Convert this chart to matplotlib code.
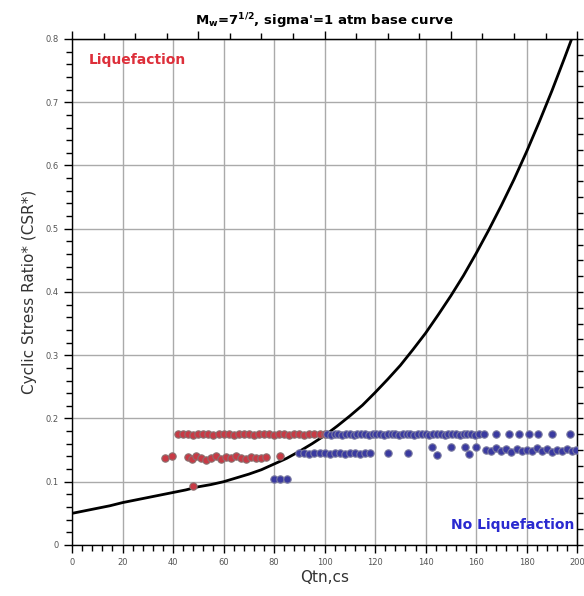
import numpy as np
import matplotlib
matplotlib.use('Agg')
import matplotlib.pyplot as plt
from matplotlib.ticker import MultipleLocator

# base curve
curve_q = [0, 5, 10, 15, 20, 25, 30, 35, 40, 45, 50, 55, 60, 65, 70, 75, 80, 85, 90, 95,
           100, 105, 110, 115, 120, 125, 130, 135, 140, 145, 150, 155, 160, 165, 170, 175,
           180, 185, 190, 195, 198]
curve_csr = [0.050, 0.054, 0.058, 0.062, 0.067, 0.071, 0.075, 0.079, 0.083, 0.087, 0.092,
             0.0955, 0.100, 0.106, 0.112, 0.119, 0.128, 0.137, 0.148, 0.160, 0.173, 0.188,
             0.204, 0.221, 0.241, 0.262, 0.284, 0.309, 0.335, 0.364, 0.394, 0.426, 0.461,
             0.498, 0.537, 0.578, 0.622, 0.669, 0.718, 0.770, 0.802]

# liquefaction points (red)
liq_q = [42, 44, 46, 48, 50, 52, 54, 56, 58, 60, 62, 64, 66, 68, 70, 72, 74, 76, 78, 80,
         82, 84, 86, 88, 90, 92, 94, 96, 98, 100,
         37, 39.5, 46, 47.5, 49, 51, 53, 55, 57, 59, 61, 63, 65, 67, 69, 71, 73, 75, 77, 82.5,
         48]
liq_csr = [0.175, 0.176, 0.175, 0.174, 0.175, 0.176, 0.175, 0.174, 0.175, 0.176, 0.175, 0.174,
           0.175, 0.176, 0.175, 0.174, 0.175, 0.176, 0.175, 0.174, 0.175, 0.176, 0.174, 0.175,
           0.176, 0.174, 0.175, 0.176, 0.175, 0.176,
           0.137, 0.140, 0.139, 0.136, 0.141, 0.137, 0.135, 0.138, 0.140, 0.136, 0.139, 0.137,
           0.140, 0.138, 0.136, 0.139, 0.138, 0.137, 0.139, 0.140,
           0.094]

# no liquefaction points (blue)
noliq_q = [101, 102.5, 104, 105.5, 107, 108.5, 110, 111.5, 113, 114.5, 116, 117.5, 119, 120.5,
           122, 123.5, 125, 126.5, 128, 129.5, 131, 132.5, 134, 135.5, 137, 138.5, 140, 141.5,
           143, 144.5, 146, 147.5, 149, 150.5, 152, 153.5, 155, 156.5, 158, 159.5, 161, 163,
           168, 173, 177, 181, 184.5, 190, 197,
           90, 92, 94, 96, 98, 100, 102, 104, 106, 108, 110, 112, 114, 116, 118, 125, 133,
           142.5, 144.5, 150, 155.5, 157, 160,
           164, 166, 168, 170, 172, 174, 176, 178, 180, 182, 184, 186, 188, 190, 192, 194,
           196, 198, 199.5,
           80, 82.5, 85]
noliq_csr = [0.175, 0.174, 0.176, 0.175, 0.174, 0.176, 0.175, 0.174, 0.175, 0.176, 0.175, 0.174,
             0.175, 0.176, 0.175, 0.174, 0.175, 0.176, 0.175, 0.174, 0.175, 0.176, 0.175, 0.174,
             0.175, 0.176, 0.175, 0.174, 0.175, 0.176, 0.175, 0.174, 0.175, 0.176, 0.175, 0.174,
             0.175, 0.176, 0.175, 0.174, 0.175, 0.176,
             0.175, 0.175, 0.175, 0.175, 0.175, 0.175, 0.175,
             0.145, 0.146, 0.144, 0.145, 0.146, 0.145, 0.144, 0.146, 0.145, 0.144, 0.146, 0.145,
             0.144, 0.146, 0.145, 0.145, 0.145,
             0.155, 0.143, 0.155, 0.155, 0.144, 0.155,
             0.150, 0.148, 0.153, 0.149, 0.151, 0.147, 0.152, 0.149, 0.150, 0.148, 0.153, 0.149,
             0.151, 0.147, 0.150, 0.149, 0.152, 0.148, 0.150,
             0.104, 0.104, 0.104]

fig = plt.figure(figsize=(5.84, 5.96), dpi=100)
ax = fig.add_axes([0.1233, 0.0856, 0.865, 0.849])

ax.grid(True, which='major', color='#aaaaaa', lw=1.0, zorder=0)
ax.plot(curve_q, curve_csr, color='black', lw=2.0, zorder=2)
ax.scatter(liq_q, liq_csr, s=28, c='#c83a45', edgecolors='#8a7070', linewidths=0.8, zorder=3)
ax.scatter(noliq_q, noliq_csr, s=28, c='#3a3aa0', edgecolors='#7a7aa0', linewidths=0.8, zorder=3)

ax.set_xlim(0, 200)
ax.set_ylim(0, 0.8)
ax.xaxis.set_major_locator(MultipleLocator(20))
ax.xaxis.set_minor_locator(MultipleLocator(4))
ax.yaxis.set_major_locator(MultipleLocator(0.1))
ax.yaxis.set_minor_locator(MultipleLocator(0.02))
ax.set_yticks([0, 0.1, 0.2, 0.3, 0.4, 0.5, 0.6, 0.7, 0.8])
ax.set_yticklabels(['0', '0.1', '0.2', '0.3', '0.4', '0.5', '0.6', '0.7', '0.8'])
ax.tick_params(which='major', length=6, width=1, labelsize=6, labelcolor='#555555', direction='out')
ax.tick_params(which='minor', length=4, width=1, direction='out')

top = ax.secondary_xaxis('top')
top.xaxis.set_major_locator(MultipleLocator(50))
top.xaxis.set_minor_locator(MultipleLocator(12.5))
top.tick_params(which='major', length=6, width=1, labeltop=False)
top.tick_params(which='minor', length=4, width=1)

right = ax.secondary_yaxis('right')
right.yaxis.set_major_locator(MultipleLocator(0.025))
right.tick_params(which='major', length=4, width=1, labelright=False)

for sp in ax.spines.values():
    sp.set_linewidth(1.0)

ax.text(6.5, 0.767, 'Liquefaction', color='#dd2f3a', fontsize=10, fontweight='bold', va='center')
ax.text(199, 0.032, 'No Liquefaction', color='#2a2ad0', fontsize=10, fontweight='bold',
        va='center', ha='right')

ax.set_title(r"M$_\mathbf{w}$=7$^{\mathbf{1/2}}$, sigma'=1 atm base curve", fontsize=9.5,
             fontweight='bold', pad=10)
ax.set_xlabel('Qtn,cs', fontsize=11, color='#333333', labelpad=2)
ax.set_ylabel('Cyclic Stress Ratio* (CSR*)', fontsize=11, color='#333333', labelpad=6)

fig.savefig('out.png', dpi=100)
